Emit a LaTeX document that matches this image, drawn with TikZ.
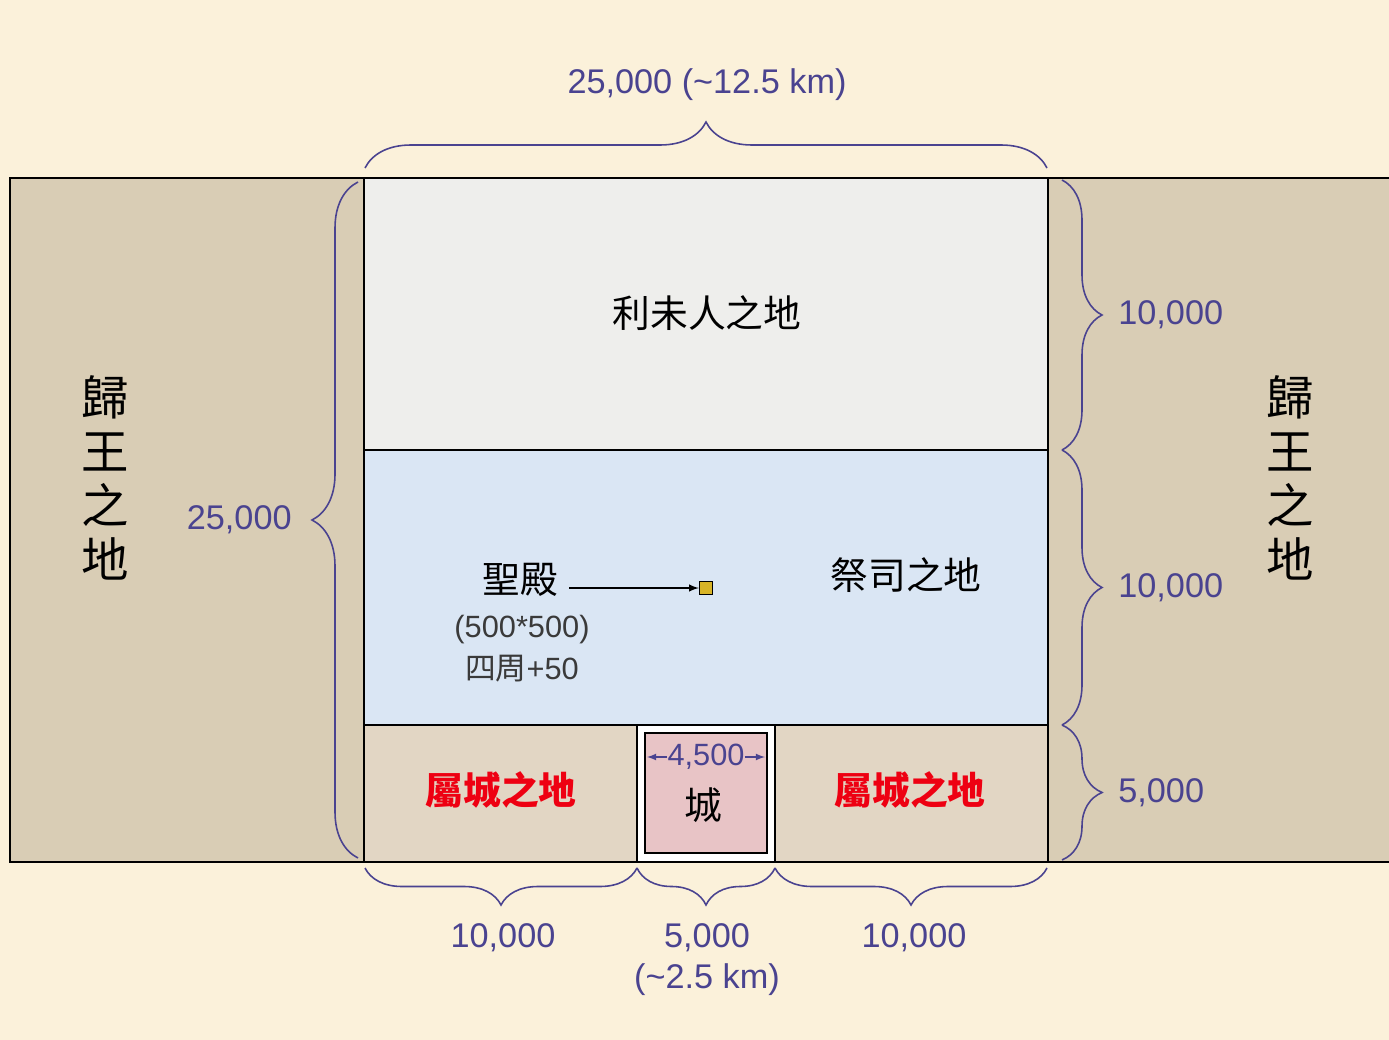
\documentclass[tikz,border=0pt]{standalone}
\usepackage{fontspec}
\setmainfont{Liberation Sans}
\newfontfamily\cjk{Noto Sans CJK TC}
\usepackage{tikz}
\usetikzlibrary{
  % enables the braces
  decorations.pathreplacing,%
  arrows,
  positioning
}
\definecolor{bgbeige}{HTML}{FBF1DA}
\definecolor{kingtan}{HTML}{D9CDB5}
\definecolor{levigray}{HTML}{EEEEEC}
\definecolor{priestblue}{HTML}{DAE6F4}
\definecolor{towntan}{HTML}{E2D6C4}
\definecolor{citypink}{HTML}{E8C4C6}
\definecolor{templegold}{HTML}{D8B427}
\definecolor{numblue}{HTML}{4A4390}
\definecolor{townred}{HTML}{EE0012}
\definecolor{subgray}{HTML}{3A3A3A}
\tikzset{>=latex}
\tikzset{
  region/.style={draw=black, line width=1.1pt},
  numtext/.style={text=numblue, font=\fontsize{19.5}{23}\selectfont, inner sep=0pt},
  smallnum/.style={text=numblue, font=\fontsize{17.5}{21}\selectfont, inner sep=0pt},
  subtext/.style={text=subgray, font=\fontsize{17.5}{21}\selectfont, inner sep=0pt},
  landtext/.style={font=\cjk\fontsize{21.5}{24}\selectfont, inner sep=0pt},
  towntext/.style={font=\cjk\bfseries\fontsize{21.5}{24}\selectfont, text=townred, inner sep=0pt},
  kingtext/.style={font=\cjk\fontsize{27}{30.6}\selectfont, align=center, inner sep=0pt},
  dimbrace/.style={decorate, decoration={brace, amplitude=#1}, draw=numblue, line width=0.9pt}
}

\begin{document}
\begin{tikzpicture}[x=0.02cm, y=-0.02cm]
  \useasboundingbox (0,0) rectangle (1389,1040);
  \fill[bgbeige] (0,0) rectangle (1389,1040);
  % land of the prince
  \fill[kingtan] (10,178) rectangle (1389,862);
  \draw[region] (1389,178) -- (10,178) -- (10,862) -- (1389,862);
  % the holy portion
  \filldraw[region, fill=levigray] (364,178) rectangle (1048,450);
  \filldraw[region, fill=priestblue] (364,450) rectangle (1048,725);
  \filldraw[region, fill=towntan] (364,725) rectangle (1048,862);
  \filldraw[region, fill=white] (637,725) rectangle (775,862);
  \filldraw[region, fill=citypink] (645,733) rectangle (767,853);

  \node[kingtext] (kingwest) at (105,478) {歸\\王\\之\\地};
  \node[kingtext] (kingeast) at (1290,478) {歸\\王\\之\\地};
  \node[landtext] (levites) at (707,313) {利未人之地};
  \node[landtext] (priests) at (906,575) {祭司之地};

  % temple with its arrow
  \node[landtext] (temple) at (520,580) {聖殿};
  \node[subtext] (templesize) at (522,630) {(500*500)};
  \node[subtext, below=0.2cm of templesize] (templeborder) {{\cjk 四周}+50};
  \node[draw, fill=templegold, line width=0.8pt, minimum size=0.26cm, inner sep=0pt] (sanctuary) at (706,588) {};
  \draw[->, line width=0.9pt] ([xshift=0.22cm]temple.east |- sanctuary) -- (sanctuary.west);

  % city and its lands
  \node[towntext] (townwest) at (501,790) {屬城之地};
  \node[towntext] (towneast) at (910,790) {屬城之地};
  \node[landtext] (city) at (703,805) {城};
  \node[smallnum] (citywidth) at (706,757) {4,500};
  \coordinate (wallwest) at (647,757);
  \coordinate (walleast) at (765,757);
  \draw[->, numblue, line width=0.8pt] (citywidth.west) -- (wallwest);
  \draw[->, numblue, line width=0.8pt] (citywidth.east) -- (walleast);

  % braces
  \draw[dimbrace=0.92cm] (365,168) -- (1047,168);
  \node[numtext] (totalwidth) at (707,85) {25,000 (\textasciitilde12.5 km)};
  \draw[dimbrace=0.92cm] (358,858) -- (358,182);
  \node[numtext, anchor=east] (totalheight) at (292,520) {25,000};
  \foreach \ya/\yb/\n/\lab in {180/450/levi/{10,000}, 450/725/priest/{10,000}, 725/860/town/{5,000}}
    {
      \draw[dimbrace=0.8cm] (1062,\ya) -- (1062,\yb);
      \node[numtext, anchor=west] (\n height) at (1118,{(\ya+\yb)/2}) {\lab};
    }
  \foreach \xa/\xb/\n in {365/637/west, 637/775/city, 775/1047/east}
    \draw[dimbrace=0.74cm] (\xb,868) -- (\xa,868);
  \node[numtext] (westwidth) at (503,938) {10,000};
  \node[numtext] (citystrip) at (707,938) {5,000};
  \node[numtext, below=0.22cm of citystrip] (citykm) {(\textasciitilde2.5 km)};
  \node[numtext] (eastwidth) at (914,938) {10,000};
\end{tikzpicture}
\end{document}
